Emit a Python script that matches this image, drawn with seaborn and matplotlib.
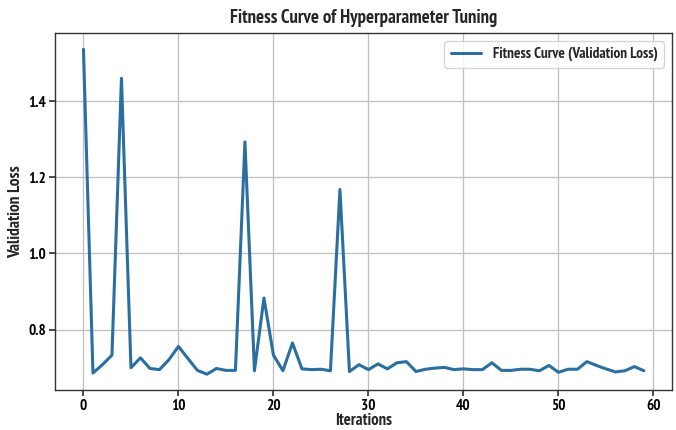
import matplotlib
matplotlib.use("Agg")
import matplotlib.pyplot as plt
import seaborn as sns
import pandas as pd
from matplotlib import font_manager

iterations = list(range(60))
val_loss = [
    1.536, 0.686, 0.708, 0.733, 1.460, 0.700, 0.726, 0.698, 0.695, 0.721,
    0.756, 0.724, 0.693, 0.683, 0.698, 0.693, 0.693, 1.293, 0.692, 0.883,
    0.733, 0.692, 0.765, 0.697, 0.695, 0.696, 0.692, 1.168, 0.690, 0.708,
    0.695, 0.710, 0.697, 0.713, 0.716, 0.690, 0.696, 0.699, 0.701, 0.695,
    0.697, 0.695, 0.695, 0.713, 0.693, 0.693, 0.696, 0.696, 0.692, 0.706,
    0.688, 0.696, 0.696, 0.716, 0.706, 0.697, 0.689, 0.692, 0.703, 0.692,
]
series_label = "Fitness Curve (Validation Loss)"
title = "Fitness Curve of Hyperparameter Tuning"
xlabel = "Iterations"
ylabel = "Validation Loss"

df = pd.DataFrame({"Iterations": iterations, "Loss": val_loss})

sns.set_theme(style="whitegrid")
fl = font_manager.fontManager.ttflist
narrow = [f for f in fl if "Narrow" in f.name or "Narrow" in f.fname]
narrow_bold = [f for f in narrow if (f.weight in (700, "bold") or "Bold" in f.fname)
               and "Italic" not in f.fname and f.style == "normal"]
if narrow_bold:
    def fp(size):
        return font_manager.FontProperties(fname=narrow_bold[0].fname, size=size)
else:
    def fp(size):
        return font_manager.FontProperties(family=["Liberation Sans", "DejaVu Sans"],
                                           weight="bold", size=size)

fig, ax = plt.subplots(figsize=(6.76, 4.30), dpi=100)
sns.lineplot(data=df, x="Iterations", y="Loss", ax=ax, color="#2b6fa0",
             linewidth=2.2, label=series_label)

ax.set_title(title, fontproperties=fp(13.5), pad=7)
ax.set_xlabel(xlabel, fontproperties=fp(12), labelpad=0)
ax.set_ylabel(ylabel, fontproperties=fp(12.5), labelpad=3)
ax.set_xticks([0, 10, 20, 30, 40, 50, 60])
ax.set_yticks([0.8, 1.0, 1.2, 1.4])
ax.tick_params(axis="both", length=4, color="#333333", pad=2.5,
               direction="out", left=True, bottom=True, labelcolor="black")
for lab in ax.get_xticklabels() + ax.get_yticklabels():
    lab.set_fontproperties(fp(11))
ax.grid(True, color="#bfbfbf", linewidth=0.9)
for s in ax.spines.values():
    s.set_color("#333333")
    s.set_linewidth(1.0)

leg = ax.legend(loc="upper right", prop=fp(11), frameon=True)

fig.subplots_adjust(left=0.082, right=0.994, top=0.923, bottom=0.092)
fig.savefig("out.png", dpi=100)
